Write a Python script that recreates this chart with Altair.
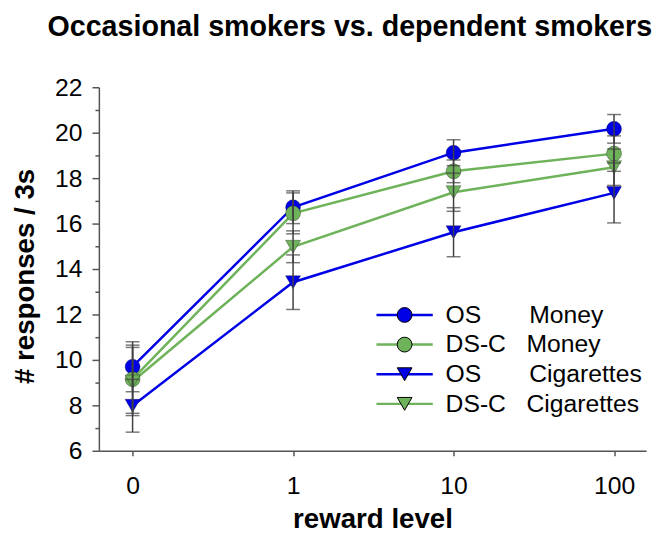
import json
import altair as alt
import pandas as pd

# ---- data ----
levels = ["0", "1", "10", "100"]
NB = "\u00a0"
series = [
    "OS" + NB * 7 + "Money",
    "DS-C" + NB * 3 + "Money",
    "OS" + NB * 7 + "Cigarettes",
    "DS-C" + NB * 3 + "Cigarettes",
]
os_money = [9.70, 16.72, 19.12, 20.17]
os_money_err = [1.10, 0.72, 0.57, 0.63]
dsc_money = [9.15, 16.45, 18.30, 19.08]
dsc_money_err = [1.50, 0.90, 0.50, 0.78]
os_cig = [7.98, 13.42, 15.62, 17.35]
os_cig_err = [1.16, 1.20, 1.08, 1.32]
dsc_cig = [9.05, 14.98, 17.38, 18.48]
dsc_cig_err = [1.50, 0.70, 0.84, 0.80]

colors = ["#0000e6", "#6eb25a", "#0000e6", "#6eb25a"]
shapes = ["circle", "circle", "triangle-down", "triangle-down"]

means = [os_money, dsc_money, os_cig, dsc_cig]
errs = [os_money_err, dsc_money_err, os_cig_err, dsc_cig_err]

rows = []
for s, m, e in zip(series, means, errs):
    for i, lev in enumerate(levels):
        rows.append({"series": s, "seriesL": s, "x": i, "level": lev,
                     "mean": m[i], "lo": m[i] - e[i], "hi": m[i] + e[i]})
df = pd.DataFrame(rows)

FONT = "Liberation Sans"
AX = "#555555"

x_scale = alt.Scale(domain=[-0.21, 3.2], nice=False, zero=False)
y_scale = alt.Scale(domain=[6, 22], nice=False, zero=False)

x_axis = alt.Axis(
    values=list(range(len(levels))),
    labelExpr=json.dumps(levels) + "[datum.value]",
    tickSize=5, tickWidth=1.5, tickColor=AX,
    domainColor=AX, domainWidth=1.5,
    labelFont=FONT, labelFontSize=25, labelColor="black", labelPadding=18,
    grid=False,
    title="reward level", titleFont=FONT, titleFontSize=28, titleFontWeight="bold",
    titleColor="black", titleBaseline="alphabetic", titleY=78,
)
y_axis = alt.Axis(
    values=list(range(6, 23)),
    labelExpr="datum.value % 2 === 0 ? datum.label : ''",
    tickSize={"condition": {"test": "datum.value % 2 === 0", "value": 7}, "value": 4},
    tickWidth=1.5, tickColor=AX,
    domainColor=AX, domainWidth=1.5,
    labelFont=FONT, labelFontSize=25, labelColor="black", labelPadding=10,
    grid=False,
    title="# responses / 3s", titleFont=FONT, titleFontSize=28, titleFontWeight="bold",
    titleColor="black", titleAngle=270, titleAlign="center", titleBaseline="alphabetic",
    titleX=-66, titleY=191,
)


def X():
    return alt.X("x:Q", scale=x_scale, axis=x_axis)


def Y(field):
    return alt.Y(field + ":Q", scale=y_scale, axis=y_axis)


leg_common = dict(
    title=None, orient="none", legendX=297, legendY=218, padding=0,
    symbolSize=225, labelFont=FONT, labelFontSize=25, labelColor="black",
    labelOffset=29, rowPadding=4, labelLimit=500,
)

base = alt.Chart(df)

# line layer: its own legend (data-derived domain so it is not merged with the marker legend)
lines = base.mark_line(strokeWidth=2.5).encode(
    x=X(), y=Y("mean"),
    stroke=alt.Stroke(
        "seriesL:N", sort=series, scale=alt.Scale(range=colors),
        legend=alt.Legend(symbolType="M-3.8,0H3.8", symbolStrokeWidth=2.5,
                          labelOpacity=0, **leg_common),
    ),
)

pt_legend = alt.Legend(symbolStrokeWidth=1, **leg_common)
points = base.mark_point(filled=True, size=230, opacity=1, stroke="black",
                         strokeOpacity=0.3, strokeWidth=1).encode(
    x=X(), y=Y("mean"),
    fill=alt.Fill("series:N", scale=alt.Scale(domain=series, range=colors), legend=pt_legend),
    shape=alt.Shape("series:N", scale=alt.Scale(domain=series, range=shapes), legend=pt_legend),
)

bars = base.mark_rule(color="#404040", strokeWidth=1.5).encode(
    x=X(), y=Y("lo"), y2="hi:Q"
)
caps_lo = base.mark_tick(orient="horizontal", size=14, thickness=1.5, color="#404040").encode(
    x=X(), y=Y("lo")
)
caps_hi = base.mark_tick(orient="horizontal", size=14, thickness=1.5, color="#404040").encode(
    x=X(), y=Y("hi")
)

chart = alt.layer(lines, points, bars, caps_lo, caps_hi).properties(
    width=554, height=368,
    autosize=alt.AutoSizeParams(type="none"),
    padding={"left": 92, "top": 77, "right": 11, "bottom": 81},
    background="white",
    title=alt.Title(
        "Occasional smokers vs. dependent smokers",
        font=FONT, fontSize=29, fontWeight="bold", color="black",
        anchor="middle", dx=-23, frame="group", offset=11, baseline="alphabetic",
    ),
).configure_view(stroke=None)

chart.save("out.html", embed_options={"renderer": "svg", "actions": False})
